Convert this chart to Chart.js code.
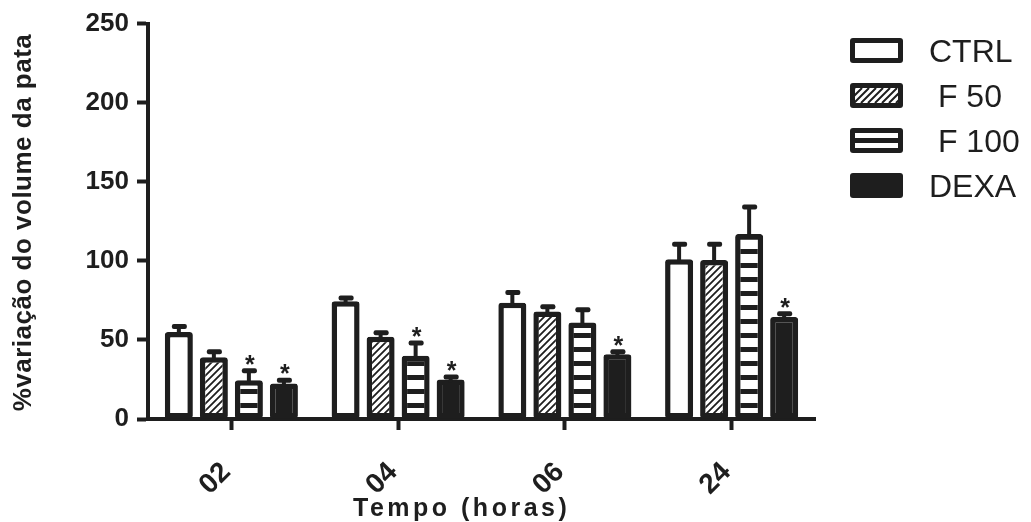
<!DOCTYPE html>
<html>
<head>
<meta charset="utf-8">
<script src="https://cdn.jsdelivr.net/npm/chart.js@4.4.1/dist/chart.umd.min.js"></script>
<style>
  html, body { margin: 0; padding: 0; background: #fff; }
  canvas { display: block; }
</style>
</head>
<body>
<canvas id="chart" width="1031" height="522"></canvas>
<script>
// Paw volume change (%) over time, mean + SEM per group
const categories = ['02', '04', '06', '24'];
const seriesNames = ['CTRL', ' F 50', ' F 100', 'DEXA'];

const ctrlMean = [55, 74.5, 73.5, 101];
const ctrlSem  = [3.5, 2, 6.5, 9.5];
const f50Mean  = [39, 52, 68, 100.5];
const f50Sem   = [3.5, 2.5, 3, 10];
const f100Mean = [24.5, 40, 61, 117];
const f100Sem  = [6, 8, 8, 17];
const dexaMean = [22.5, 25, 41, 64.5];
const dexaSem  = [2, 1.5, 1.5, 2];

// significance marks drawn above each bar
const ctrlSig = ['', '', '', ''];
const f50Sig  = ['', '', '', ''];
const f100Sig = ['*', '*', '', ''];
const dexaSig = ['*', '*', '*', '*'];

const yTicks = [0, 50, 100, 150, 200, 250];

const yTitle = '%variação do volume da pata';
const xTitle = 'Tempo (horas)';

const INK = '#1e1e1e';
const FONT = '"Liberation Sans", Arial, sans-serif';

const semSets = [ctrlSem, f50Sem, f100Sem, dexaSem];
const sigSets = [ctrlSig, f50Sig, f100Sig, dexaSig];

const canvas = document.getElementById('chart');
const ctx = canvas.getContext('2d');

// diagonal hatch fill
function makeHatch() {
  const s = 7;
  const c = document.createElement('canvas');
  c.width = s; c.height = s;
  const g = c.getContext('2d');
  g.fillStyle = '#fff';
  g.fillRect(0, 0, s, s);
  g.strokeStyle = INK;
  g.lineWidth = 1.8;
  g.beginPath();
  g.moveTo(-1, s + 1); g.lineTo(s + 1, -1);
  g.moveTo(-1, 1); g.lineTo(1, -1);
  g.moveTo(s - 1, s + 1); g.lineTo(s + 1, s - 1);
  g.stroke();
  return ctx.createPattern(c, 'repeat');
}

// horizontal band fill
const STRIPE_PERIOD = 14;
function makeStripes() {
  const c = document.createElement('canvas');
  c.width = 4; c.height = STRIPE_PERIOD;
  const g = c.getContext('2d');
  g.fillStyle = '#fff';
  g.fillRect(0, 0, 4, STRIPE_PERIOD);
  g.fillStyle = INK;
  g.fillRect(0, 0, 4, 5);
  return ctx.createPattern(c, 'repeat');
}

const hatch = makeHatch();
const stripes = makeStripes();

const fills = ['#ffffff', hatch, stripes, INK];
const means = [ctrlMean, f50Mean, f100Mean, dexaMean];

function roundRect(c, x, y, w, h, r) {
  c.beginPath();
  c.moveTo(x + r, y);
  c.lineTo(x + w - r, y);
  c.quadraticCurveTo(x + w, y, x + w, y + r);
  c.lineTo(x + w, y + h - r);
  c.quadraticCurveTo(x + w, y + h, x + w - r, y + h);
  c.lineTo(x + r, y + h);
  c.quadraticCurveTo(x, y + h, x, y + h - r);
  c.lineTo(x, y + r);
  c.quadraticCurveTo(x, y, x + r, y);
  c.closePath();
}

// keeps the band pattern in phase with the baseline
const patternPhase = {
  id: 'patternPhase',
  beforeDatasetsDraw(chart) {
    const b = chart.chartArea.bottom;
    if (stripes.setTransform) stripes.setTransform(new DOMMatrix().translate(0, b - 2));
    if (hatch.setTransform) hatch.setTransform(new DOMMatrix().translate(chart.chartArea.left, b));
  }
};

// SEM whiskers and significance asterisks
const errorBars = {
  id: 'errorBars',
  afterDatasetsDraw(chart) {
    const c = chart.ctx;
    const y = chart.scales.y;
    chart.data.datasets.forEach((ds, i) => {
      const meta = chart.getDatasetMeta(i);
      meta.data.forEach((bar, j) => {
        const v = ds.data[j];
        const top = y.getPixelForValue(v);
        const end = y.getPixelForValue(v + semSets[i][j]);
        c.save();
        c.fillStyle = INK;
        c.fillRect(bar.x - 2, end, 4, top - end + 3);
        roundRect(c, bar.x - 7, end - 2.5, 15, 5, 2);
        c.fill();
        const mark = sigSets[i][j];
        if (mark) {
          const fs = 25;
          c.font = 'bold ' + fs + 'px ' + FONT;
          c.textAlign = 'center';
          c.textBaseline = 'alphabetic';
          const centre = end - 2.5 - 10;
          c.fillText(mark, bar.x + 1, centre + 0.573 * fs);
        }
        c.restore();
      });
    });
  }
};

// axis titles and the legend on the right
const decorations = {
  id: 'decorations',
  afterDraw(chart) {
    const c = chart.ctx;
    c.save();
    c.fillStyle = INK;
    // y title
    c.save();
    c.translate(30.5, 222.5);
    c.rotate(-Math.PI / 2);
    c.font = 'bold 26px ' + FONT;
    c.letterSpacing = '0.5px';
    c.textAlign = 'center';
    c.textBaseline = 'alphabetic';
    c.fillText(yTitle, 0, 0);
    c.restore();
    // x title
    c.save();
    c.font = 'bold 25px ' + FONT;
    c.letterSpacing = '3.5px';
    c.textAlign = 'left';
    c.textBaseline = 'alphabetic';
    c.fillText(xTitle, 353, 516);
    c.restore();

    // legend
    const bx = 850, bw = 53, bh = 25, bwid = 5;
    const rows = [50.5, 95.5, 140.5, 185.5];
    chart.data.datasets.forEach((ds, i) => {
      const cy = rows[i];
      const top = cy - bh / 2;
      c.save();
      c.fillStyle = INK;
      roundRect(c, bx, top, bw, bh, 3);
      c.fill();
      const ix = bx + bwid, iy = top + bwid, iw = bw - 2 * bwid, ih = bh - 2 * bwid;
      if (i === 0) {
        c.fillStyle = '#fff';
        c.fillRect(ix, iy, iw, ih);
      } else if (i === 1) {
        c.fillStyle = '#fff';
        c.fillRect(ix, iy, iw, ih);
        c.save();
        c.beginPath();
        c.rect(ix, iy, iw, ih);
        c.clip();
        c.strokeStyle = INK;
        c.lineWidth = 2;
        c.beginPath();
        for (let k = -ih; k < iw + ih; k += 7) {
          c.moveTo(ix + k, iy + ih);
          c.lineTo(ix + k + ih, iy);
        }
        c.stroke();
        c.restore();
      } else if (i === 2) {
        c.fillStyle = '#fff';
        c.fillRect(ix, iy, iw, ih);
        c.fillStyle = INK;
        c.fillRect(ix, iy + ih / 2 - 2.5, iw, 5);
      }
      c.fillStyle = INK;
      c.font = '32px ' + FONT;
      c.textAlign = 'left';
      c.textBaseline = 'alphabetic';
      c.fillText(ds.label, 929, cy + 0.358 * 32);
      c.restore();
    });
    c.restore();
  }
};

const datasets = seriesNames.map((name, i) => ({
  label: name,
  data: means[i],
  backgroundColor: fills[i],
  borderColor: INK,
  borderWidth: 5.5,
  borderRadius: 3,
  borderSkipped: false,
  categoryPercentage: 0.84,
  barPercentage: 0.8
}));

new Chart(ctx, {
  type: 'bar',
  data: { labels: categories, datasets },
  options: {
    responsive: false,
    animation: false,
    events: [],
    layout: { padding: { left: 0, right: 216, top: 23, bottom: 0 } },
    plugins: {
      legend: { display: false },
      tooltip: { enabled: false }
    },
    scales: {
      x: {
        type: 'category',
        offset: true,
        grid: {
          offset: false,
          drawOnChartArea: false,
          drawTicks: true,
          tickLength: 11,
          tickWidth: 4,
          tickColor: INK
        },
        border: { display: true, color: INK, width: 4 },
        ticks: {
          color: INK,
          font: { family: FONT, size: 28, weight: 'bold' },
          minRotation: 45,
          maxRotation: 45,
          autoSkip: false,
          padding: 26,
          labelOffset: -5
        },
        afterFit(scale) { scale.height = 103; }
      },
      y: {
        min: yTicks[0],
        max: yTicks[yTicks.length - 1],
        grid: {
          drawOnChartArea: false,
          drawTicks: true,
          tickLength: 11,
          tickWidth: 4,
          tickColor: INK
        },
        border: { display: true, color: INK, width: 4 },
        ticks: {
          stepSize: yTicks[1] - yTicks[0],
          color: INK,
          font: { family: FONT, size: 26, weight: 'bold' },
          padding: 8
        },
        afterFit(scale) { scale.width = 148; }
      }
    }
  },
  plugins: [patternPhase, errorBars, decorations]
});
</script>
</body>
</html>
